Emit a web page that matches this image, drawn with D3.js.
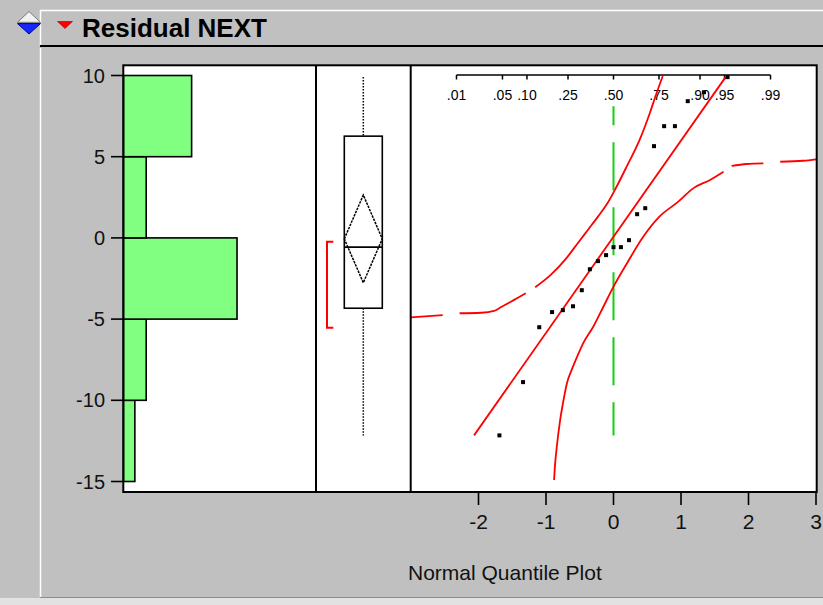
<!DOCTYPE html>
<html><head><meta charset="utf-8">
<script src="https://cdn.jsdelivr.net/npm/d3@7"></script>
<style>body{margin:0;background:#c0c0c0;overflow:hidden;} svg{display:block;font-family:"Liberation Sans",Arial,sans-serif;}</style>
</head><body><svg id="c" width="823" height="605"></svg>
<script>
// ---------- data ----------
const titleText = "Residual NEXT";
const axisTitle = "Normal Quantile Plot";
const residuals = [-12.16,-8.88,-5.50,-4.57,-4.45,-4.21,-3.22,-1.93,-1.43,-1.06,-0.57,-0.57,-0.14,1.46,1.83,5.65,6.88,6.88,8.42,8.97,9.90];
const normalQuantiles = [-1.69,-1.34,-1.10,-0.91,-0.75,-0.60,-0.47,-0.35,-0.23,-0.11,0.00,0.11,0.23,0.35,0.47,0.60,0.75,0.91,1.10,1.34,1.69];
const binThresholds = [-10,-5,0,5];
const yTicks = [-15,-10,-5,0,5,10];
const xTicks = [-2,-1,0,1,2,3];
const probLabels = [".01",".05",".10",".25",".50",".75",".90",".95",".99"];
const probZ = [-2.326,-1.645,-1.282,-0.674,0,0.674,1.282,1.645,2.326];
const meanDiamond = [-2.76,-0.06,2.64];     // lower CI, mean, upper CI
const shortestHalf = [-5.53,-0.23];
const fitLine = [0.07,5.92];                 // intercept (mean), slope (sd)
const greenTop = 8.1;
// Lilliefors confidence bands (z, value), split where the drawn curve breaks
const bandUpper = [
  [[-3.0,-4.89],[-2.53,-4.75]],
  [[-2.28,-4.64],[-1.96,-4.61],[-1.77,-4.50],[-1.67,-4.27],[-1.52,-3.93],[-1.30,-3.41]],
  [[-1.16,-3.04],[-0.93,-2.28],[-0.70,-1.26],[-0.53,-0.33],[-0.38,0.49],[-0.23,1.31],[-0.09,2.13],[0.02,2.95],[0.20,4.43],[0.39,6.07],[0.54,7.71],[0.64,8.94],[0.73,9.97]]
];
const bandLower = [
  [[-0.88,-14.91],[-0.87,-14.19],[-0.84,-12.86],[-0.79,-11.21],[-0.74,-9.98],[-0.69,-8.95],[-0.62,-8.13],[-0.54,-7.32],[-0.45,-6.49],[-0.30,-5.47],[-0.15,-4.24],[0.0,-3.00],[0.20,-1.56],[0.44,0.07],[0.68,1.31],[0.96,2.23],[1.18,3.05],[1.43,3.57],[1.63,4.08]],
  [[1.75,4.43],[1.97,4.55],[2.22,4.59]],
  [[2.47,4.69],[2.81,4.75],[3.0,4.84]]
];

// ---------- scales ----------
const svg = d3.select("#c");
const y = d3.scaleLinear().domain([-15,10]).range([481.5,75.5]);
const xq = d3.scaleLinear().domain([-3,3]).range([411,816]);
const xc = d3.scaleLinear().domain([0,17]).range([123.5,316.5]);
const frame = {x0:123.3, x1:816.7, y0:65.3, y1:492};
const div1 = 316, div2 = 410.7;

// ---------- window chrome ----------
svg.append("rect").attr("x",0).attr("y",0).attr("width",823).attr("height",605).attr("fill","#c0c0c0");
svg.append("line").attr("x1",40).attr("x2",823).attr("y1",10.5).attr("y2",10.5).attr("stroke","#ffffff").attr("stroke-width",1.5);
svg.append("line").attr("x1",40.5).attr("x2",40.5).attr("y1",10).attr("y2",46).attr("stroke","#ffffff").attr("stroke-width",1.5);
svg.append("line").attr("x1",40).attr("x2",823).attr("y1",46).attr("y2",46).attr("stroke","#000").attr("stroke-width",2);
svg.append("line").attr("x1",40.5).attr("x2",40.5).attr("y1",48).attr("y2",597).attr("stroke","#ffffff").attr("stroke-width",1.5);
svg.append("line").attr("x1",40).attr("x2",823).attr("y1",597.5).attr("y2",597.5).attr("stroke","#8c8c8c").attr("stroke-width",1);
svg.append("rect").attr("x",0).attr("y",598).attr("width",823).attr("height",7).attr("fill","#e2e2e2");
// blue diamond
svg.append("polygon").attr("points","29,11.5 40.5,22.3 17.5,22.3").attr("fill","#f2f2f2").attr("stroke","#7a7a7a").attr("stroke-width",1);
svg.append("polygon").attr("points","17.5,23.6 40.5,23.6 29,34").attr("fill","#1428ff").attr("stroke","#00008a").attr("stroke-width",1);
// red triangle
svg.append("polygon").attr("points","57.5,21.5 72.5,21.5 65,28.5").attr("fill","#ff0000").attr("stroke","#a00000").attr("stroke-width",0.6);
svg.append("text").attr("x",82).attr("y",37).attr("font-size",26).attr("font-weight","bold").attr("fill","#000").text(titleText);

// ---------- frame ----------
svg.append("rect").attr("x",frame.x0).attr("y",frame.y0).attr("width",frame.x1-frame.x0).attr("height",frame.y1-frame.y0)
  .attr("fill","#fff");

// ---------- histogram ----------
const bins = d3.bin().domain([-15,10]).thresholds(binThresholds)(residuals);
svg.append("g").selectAll("rect").data(bins).join("rect")
  .attr("x",xc(0)).attr("y",d=>y(d.x1)).attr("width",d=>xc(d.length)-xc(0)).attr("height",d=>y(d.x0)-y(d.x1))
  .attr("fill","#80ff80").attr("stroke","#000").attr("stroke-width",1.6);

// y axis
const ya = svg.append("g");
ya.selectAll("line").data(yTicks).join("line")
  .attr("x1",111).attr("x2",frame.x0).attr("y1",d=>y(d)).attr("y2",d=>y(d)).attr("stroke","#000").attr("stroke-width",1.6);
ya.selectAll("text").data(yTicks).join("text")
  .attr("x",105).attr("y",d=>y(d)+7).attr("text-anchor","end").attr("font-size",20).attr("fill","#111").text(d=>d);

// ---------- box plot ----------
const sorted = residuals.slice().sort(d3.ascending);
function qJMP(arr,p){const pos=(arr.length+1)*p;const lo=Math.floor(pos);const f=pos-lo;return arr[lo-1]+f*(arr[lo]-arr[lo-1]);}
const q1 = qJMP(sorted,0.25), q3 = qJMP(sorted,0.75), med = d3.median(sorted);
const bx0 = 344.3, bx1 = 382.3, bc = (bx0+bx1)/2;
const bp = svg.append("g");
bp.append("line").attr("x1",bc).attr("x2",bc).attr("y1",y(d3.max(sorted))).attr("y2",y(q3)).attr("stroke","#000").attr("stroke-width",1.5).attr("stroke-dasharray","1.5,1.5");
bp.append("line").attr("x1",bc).attr("x2",bc).attr("y1",y(q1)).attr("y2",y(d3.min(sorted))).attr("stroke","#000").attr("stroke-width",1.5).attr("stroke-dasharray","1.5,1.5");
bp.append("rect").attr("x",bx0).attr("y",y(q3)).attr("width",bx1-bx0).attr("height",y(q1)-y(q3)).attr("fill","none").attr("stroke","#000").attr("stroke-width",1.6);
bp.append("line").attr("x1",bx0).attr("x2",bx1).attr("y1",y(med)).attr("y2",y(med)).attr("stroke","#000").attr("stroke-width",1.6);
bp.append("polygon").attr("points",[[bx0,y(meanDiamond[1])],[bc,y(meanDiamond[2])],[bx1,y(meanDiamond[1])],[bc,y(meanDiamond[0])]].map(p=>p.join(",")).join(" "))
  .attr("fill","none").attr("stroke","#000").attr("stroke-width",1.5).attr("stroke-dasharray","2.5,1");
bp.append("path").attr("d",`M333.3,${y(shortestHalf[1])}H327V${y(shortestHalf[0])}H333.3`).attr("fill","none").attr("stroke","#ff0000").attr("stroke-width",2);

// ---------- quantile plot ----------
svg.append("clipPath").attr("id","qc").append("rect").attr("x",div2).attr("y",frame.y0).attr("width",frame.x1-div2).attr("height",frame.y1-frame.y0);
const qp = svg.append("g").attr("clip-path","url(#qc)");
// green reference line
qp.append("line").attr("x1",xq(0)).attr("x2",xq(0)).attr("y1",y(greenTop)).attr("y2",y(d3.min(residuals)))
  .attr("stroke","#10d010").attr("stroke-width",2).attr("stroke-dasharray","48,17").attr("stroke-dashoffset",29);
// top probability axis
const ta = qp.append("g");
ta.append("line").attr("x1",xq(probZ[0])).attr("x2",xq(probZ[probZ.length-1])).attr("y1",75).attr("y2",75).attr("stroke","#000").attr("stroke-width",1.5);
ta.selectAll("line.t").data(probZ).join("line").attr("class","t")
  .attr("x1",d=>xq(d)).attr("x2",d=>xq(d)).attr("y1",75).attr("y2",79.5).attr("stroke","#000").attr("stroke-width",1.5);
ta.selectAll("text").data(probLabels).join("text")
  .attr("x",(d,i)=>xq(probZ[i])).attr("y",99.5).attr("text-anchor","middle").attr("font-size",14).attr("fill","#000").text(d=>d);
// bands
const lineGen = d3.line().x(d=>xq(d[0])).y(d=>y(d[1])).curve(d3.curveMonotoneX);
qp.append("g").selectAll("path").data(bandUpper.concat(bandLower)).join("path")
  .attr("d",lineGen).attr("fill","none").attr("stroke","#ff0000").attr("stroke-width",1.8);
// fit line
const zlo = (d3.min(residuals)-fitLine[0])/fitLine[1], zhi = (d3.max(residuals)-fitLine[0])/fitLine[1];
qp.append("line").attr("x1",xq(zlo)).attr("y1",y(fitLine[0]+fitLine[1]*zlo)).attr("x2",xq(zhi)).attr("y2",y(fitLine[0]+fitLine[1]*zhi))
  .attr("stroke","#ff0000").attr("stroke-width",1.8);
// points
qp.append("g").selectAll("rect").data(residuals).join("rect")
  .attr("x",(d,i)=>xq(normalQuantiles[i])-2).attr("y",d=>y(d)-2).attr("width",4).attr("height",4).attr("fill","#000");

// ---------- frame lines & dividers ----------
svg.append("rect").attr("x",frame.x0).attr("y",frame.y0).attr("width",frame.x1-frame.x0).attr("height",frame.y1-frame.y0)
  .attr("fill","none").attr("stroke","#000").attr("stroke-width",2);
svg.append("line").attr("x1",div1).attr("x2",div1).attr("y1",frame.y0).attr("y2",frame.y1).attr("stroke","#000").attr("stroke-width",2);
svg.append("line").attr("x1",div2).attr("x2",div2).attr("y1",frame.y0).attr("y2",frame.y1).attr("stroke","#000").attr("stroke-width",2);

// bottom x axis
const xa = svg.append("g");
xa.selectAll("line").data(xTicks).join("line")
  .attr("x1",d=>xq(d)).attr("x2",d=>xq(d)).attr("y1",frame.y1).attr("y2",505).attr("stroke","#000").attr("stroke-width",1.6);
xa.selectAll("text").data(xTicks).join("text")
  .attr("x",d=>xq(d)).attr("y",528.5).attr("text-anchor","middle").attr("font-size",21).attr("fill","#111").text(d=>d);
svg.append("text").attr("x",408).attr("y",580).attr("font-size",21).attr("fill","#111").text(axisTitle);
</script>
</body></html>
